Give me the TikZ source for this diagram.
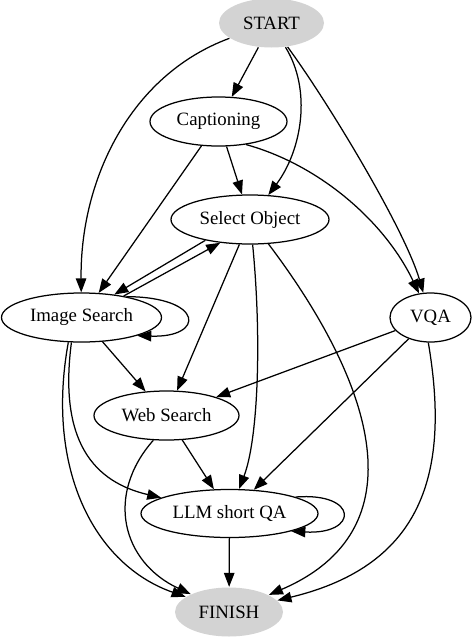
\documentclass[tikz,border=0pt]{standalone}
\usepackage{fontspec}
\setmainfont{Liberation Serif}
\usepackage{tikz}
\usetikzlibrary{arrows.meta,shapes.geometric}
\definecolor{termgray}{RGB}{211,211,211}

\begin{document}
\begin{tikzpicture}[x=1pt,y=-1pt,
    state/.style={ellipse,draw,line width=1.25pt,inner sep=0pt,minimum height=49pt,font=\fontsize{18.8}{22}\selectfont},
    term/.style={state,draw=none,fill=termgray},
    edge/.style={line width=1.25pt,-{Triangle[length=14pt,width=10.5pt]}}]
    \useasboundingbox (0,0) rectangle (472,640);

    % Nodes
    \node[term,minimum width=105pt] (start) at (271.5,23) {START};
    \node[state,minimum width=137pt] (cap) at (218.5,121.5) {Captioning};
    \node[state,minimum width=158pt] (sel) at (250,219.5) {Select Object};
    \node[state,minimum width=160pt] (img) at (81.5,317.5) {Image Search};
    \node[state,minimum width=81pt] (vqa) at (430.5,317.5) {VQA};
    \node[state,minimum width=145pt] (web) at (166.5,415.5) {Web Search};
    \node[state,minimum width=177pt,minimum height=48pt] (llm) at (229.5,513.5) {LLM short QA};
    \node[term,minimum width=108pt] (fin) at (229,612) {FINISH};

    % From START
    \draw[edge] (start) -- (cap);
    \draw[edge] (start.200) .. controls (130,75) and (80,180) .. (img);
    \draw[edge] (start.-60) .. controls (312,90) and (302,150) .. (sel);
    \draw[edge] (start.-56) .. controls (330,105) and (405,230) .. (vqa);

    % From Captioning
    \draw[edge] (cap) -- (img);
    \draw[edge] (cap) -- (sel);
    \draw[edge] (cap.-40) .. controls (320,165) and (385,222) .. (vqa);

    % Select Object and Image Search
    \draw[edge] (sel.205) -- (img.35);
    \draw[edge] (img.27) -- (sel.218);
    \draw[edge] (img.25) .. controls (205,297) and (205,338) .. (img.-18);

    % From Select Object
    \draw[edge] (sel) -- (web);
    \draw[edge] (sel.-84) .. controls (262,340) and (258,440) .. (llm);
    \draw[edge] (sel) .. controls (375,385) and (420,530) .. (fin);

    % From VQA
    \draw[edge] (vqa) -- (web);
    \draw[edge] (vqa) -- (llm);
    \draw[edge] (vqa.-95) .. controls (450,470) and (425,565) .. (fin);

    % From Image Search
    \draw[edge] (img) -- (web);
    \draw[edge] (img.-112) .. controls (60,430) and (85,480) .. (llm);
    \draw[edge] (img.-118) .. controls (45,470) and (95,565) .. (fin);

    % From Web Search
    \draw[edge] (web) -- (llm);
    \draw[edge] (web.-118) .. controls (105,495) and (122,562) .. (fin);

    % From LLM short QA
    \draw[edge] (llm.14) .. controls (359,492) and (359,535) .. (llm.-16);
    \draw[edge] (llm) -- (fin);
\end{tikzpicture}
\end{document}
